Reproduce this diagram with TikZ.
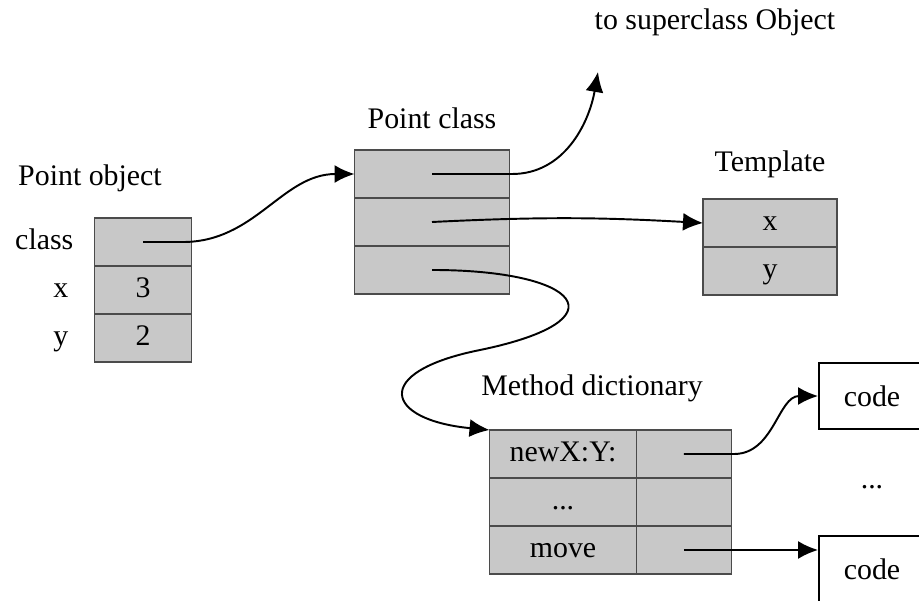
\documentclass[tikz,border=0pt]{standalone}
\usepackage{fontspec}
\setmainfont{Liberation Serif}
\usepackage{tikz}
\usepackage{xcolor}
\usetikzlibrary{positioning, arrows.meta}

\definecolor{cellgray}{RGB}{200,200,200}
\definecolor{rulegray}{RGB}{75,75,75}

\begin{document}
\begin{tikzpicture}[
    x=0.02cm, y=0.02cm,
    every node/.style={font=\fontsize{17}{20}\selectfont},
    fixed/.style={text height=12pt, text depth=4pt},
    cell/.style={
        rectangle,
        draw=rulegray,
        fill=cellgray,
        line width=1.1pt,
        outer sep=0pt,
        fixed,
        minimum height=0.96cm
    },
    objcell/.style={cell, minimum width=1.94cm},
    classcell/.style={cell, minimum width=3.1cm},
    tmplcell/.style={cell, minimum width=2.68cm},
    keycell/.style={cell, minimum width=2.94cm},
    valcell/.style={cell, minimum width=1.9cm},
    codebox/.style={
        rectangle,
        draw,
        fill=white,
        line width=1.1pt,
        minimum width=2.12cm,
        minimum height=1.32cm
    },
    arrow/.style={
        -{Latex[length=4mm, width=3.6mm]},
        line width=1.1pt
    }
]
\clip (0,0) rectangle (919,600);

% Point object
\node[objcell] (objclass) at (143,358) {};
\node[objcell, below=0pt of objclass] (objx) {3};
\node[objcell, below=0pt of objx] (objy) {2};
\node (lblobject) at (90,422) {Point object};
\node[fixed, left=0.3cm of objclass] (lblclass) {class};
\node[fixed, left=0.4cm of objx] (lblx) {x};
\node[fixed, left=0.4cm of objy] (lbly) {y};

% Point class
\node[classcell] (clsuper) at (432,426) {};
\node[classcell, below=0pt of clsuper] (cltmpl) {};
\node[classcell, below=0pt of cltmpl] (clmeth) {};
\node[above=0.3cm of clsuper] (lblpointclass) {Point class};

% Template
\node[tmplcell] (tx) at (770,377) {x};
\node[tmplcell, below=0pt of tx] (ty) {y};
\node[above=0.3cm of tx] (lbltemplate) {Template};

% Method dictionary
\node[keycell] (mdnew) at (563,146) {newX:Y:};
\node[valcell, right=0pt of mdnew] (mdnewval) {};
\node[keycell, below=0pt of mdnew] (mddots) {...};
\node[valcell, right=0pt of mddots] (mddotsval) {};
\node[keycell, below=0pt of mddots] (mdmove) {move};
\node[valcell, right=0pt of mdmove] (mdmoveval) {};
\node (lblmethods) at (592,212) {Method dictionary};

% code
\node[codebox] (codenew) at (872,204) {code};
\node[codebox] (codemove) at (872,31) {code};
\node (lbldots) at (872,113) {...};

% superclass
\coordinate (super) at (598,528);
\node (lblsuper) at (715,578) {to superclass Object};

% Point object -> Point class
\draw[arrow]
    (objclass.center) -- +(40,0)
    to[out=0, in=180] (clsuper.west);

% Point class -> superclass
\draw[arrow]
    (clsuper.center) -- +(80,0)
    to[out=0, in=-100] (super);

% Point class -> Template
\draw[arrow]
    (cltmpl.center) to[bend left=3] (tx.west);

% Point class -> Method dictionary
\draw[arrow]
    (clmeth.center)
    .. controls (580,330) and (625,280) .. (480,250)
    .. controls (370,228) and (385,180) .. (mdnew.north west);

% Method dictionary -> code
\draw[arrow]
    (mdnewval.center) -- +(50,0)
    to[out=0, in=180] (codenew.west);

\draw[arrow]
    (mdmoveval.center) -- (mdmoveval.center -| codemove.west);

\end{tikzpicture}
\end{document}
